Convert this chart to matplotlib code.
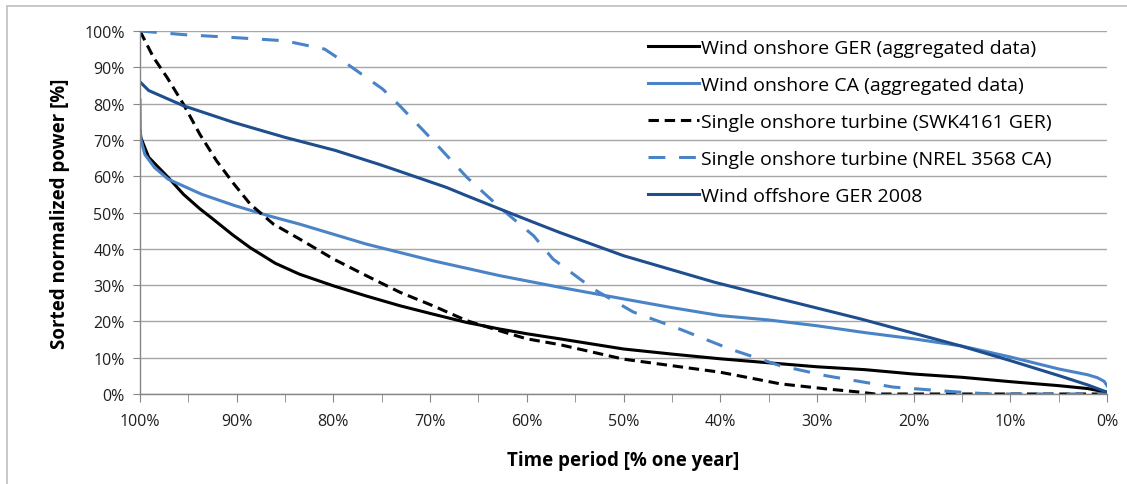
import matplotlib
matplotlib.use("Agg")
import matplotlib.pyplot as plt
from matplotlib.patches import Rectangle
from matplotlib.ticker import MultipleLocator, FuncFormatter

# ---- data (time period in % of one year, sorted normalized power in %) ----
ger_agg_t = [100, 99.9, 99.1, 97.1, 95.5, 93.8, 92.6, 90.4, 88.6, 86, 83.5, 80, 76.6, 73.1,
             69.7, 66.2, 62.8, 60, 56.6, 50, 45, 40, 35, 30, 25, 20, 15, 10, 5, 2, 0]
ger_agg_p = [72.5, 70.5, 65.2, 59.7, 55, 51, 48.5, 43.8, 40.3, 36, 33, 29.8, 27, 24.3,
             22, 19.7, 17.9, 16.6, 15.2, 12.4, 11, 9.7, 8.6, 7.5, 6.7, 5.5, 4.6, 3.4, 2.3, 1.5, 0.5]

ca_agg_t = [100, 99.97, 99.9, 99.5, 98.5, 97.1, 93.6, 90.2, 86.7, 83.5, 76.6, 69.7, 62.8, 56.6,
            50, 45, 40, 35, 30, 25, 20, 15, 10, 5, 2, 1, 0.3, 0]
ca_agg_p = [81, 72.5, 70, 66, 62.4, 59.2, 55, 51.9, 49.1, 46.8, 41.3, 36.7, 32.6, 29.4,
            26.2, 23.8, 21.6, 20.4, 18.8, 16.9, 15.2, 13.2, 10.2, 6.9, 5.3, 4.5, 3.5, 2.3]

swk_t = [100, 98.6, 97.2, 95.5, 93.8, 92.1, 90.3, 88.6, 86.2, 83.5, 80, 76.6, 73.1, 69.7,
         66.2, 62.8, 60, 56.6, 50, 45, 40, 35.9, 33.8, 29, 25.5, 24, 20, 10, 0]
swk_p = [100, 92.7, 87.2, 79.8, 71.5, 64.3, 57.9, 52.3, 46.8, 42.7, 37.2, 32.6, 28, 24.3,
         20.2, 17.4, 15.2, 13.6, 9.6, 7.8, 6, 3.9, 2.8, 1.4, 0.5, 0, 0, 0, 0]

nrel_t = [100, 95.5, 90.3, 85, 80.9, 78.3, 74.9, 73.1, 69.7, 66.2, 62.8, 59.3, 57.3, 53.1,
          49, 44.2, 39, 33.8, 29, 22.1, 15.2, 12, 0]
nrel_p = [100, 99, 98.2, 97.3, 95, 90.4, 84, 79.3, 69.8, 59.7, 51.4, 43.6, 37.2, 28.9,
          22.6, 17.9, 12.4, 7.8, 5, 1.9, 0.5, 0, 0]

off_t = [100, 99.1, 95.5, 90.3, 85, 79.8, 75.2, 73.1, 68.3, 66.2, 61.4, 59.3, 56.6, 50,
         40.6, 33.8, 25.5, 15.2, 10, 4.9, 2, 0]
off_p = [86, 83.6, 79.4, 74.8, 70.7, 67.1, 63.2, 61.3, 56.9, 54.6, 49.5, 47.3, 44.5, 38.1,
         30.8, 26.2, 20.7, 13.3, 9.2, 5, 2.5, 0.5]

labels = ["Wind onshore GER (aggregated data)",
          "Wind onshore CA (aggregated data)",
          "Single onshore turbine (SWK4161 GER)",
          "Single onshore turbine (NREL 3568 CA)",
          "Wind offshore GER 2008"]

plt.rcParams['font.family'] = ['Open Sans', 'DejaVu Sans']

fig = plt.figure(figsize=(11.27, 4.85), dpi=100)
ax = fig.add_axes([140/1127, 1-395/485, (1107-140)/1127, (395-32)/485])

LIGHT = '#4a84c6'
DARK = '#1f4e8e'
lw = 2.2
ax.plot(ger_agg_t, ger_agg_p, color='black', lw=lw, label=labels[0])
ax.plot(ca_agg_t, ca_agg_p, color=LIGHT, lw=lw, label=labels[1])
ax.plot(swk_t, swk_p, color='black', lw=lw, ls=(0, (3.4, 1.9)), label=labels[2])
ax.plot(nrel_t, nrel_p, color=LIGHT, lw=lw, ls=(0, (5.5, 4.5)), label=labels[3])
ax.plot(off_t, off_p, color=DARK, lw=lw, label=labels[4])

ax.set_xlim(100, 0)
ax.set_ylim(0, 100)
ax.xaxis.set_major_locator(MultipleLocator(10))
ax.xaxis.set_minor_locator(MultipleLocator(5))
ax.yaxis.set_major_locator(MultipleLocator(10))
fmt = FuncFormatter(lambda v, p: f"{int(round(v))}%")
ax.xaxis.set_major_formatter(fmt)
ax.yaxis.set_major_formatter(fmt)

ax.grid(axis='y', color='#a6a6a6', lw=1.0)
ax.set_axisbelow(True)
for s in ['top', 'right']:
    ax.spines[s].set_visible(False)
for s in ['left', 'bottom']:
    ax.spines[s].set_color('#868686')
    ax.spines[s].set_linewidth(1.0)

ax.tick_params(axis='x', which='both', direction='out', length=6, color='#868686',
               labelsize=11.5, pad=8, labelcolor='#202020')
ax.tick_params(axis='y', which='major', direction='out', length=5, color='#868686',
               labelsize=11.5, pad=6, labelcolor='#202020')

ax.set_xlabel("Time period [% one year]", fontsize=13.5, fontweight='bold', labelpad=15)
ax.set_ylabel("Sorted normalized power [%]", fontsize=13.5, fontweight='bold', labelpad=10)

leg = ax.legend(loc='upper left', bbox_to_anchor=(648/1127, 1-40/485),
                bbox_transform=fig.transFigure, frameon=False, fontsize=14,
                handlelength=2.6, handletextpad=0.12, labelspacing=0.98,
                borderaxespad=0, borderpad=0)

fig.patches.append(Rectangle((7/1127, -0.1), 1.2, 1.1 - 7/485, transform=fig.transFigure,
                             fill=False, edgecolor='#bfbfbf', lw=1.2))

fig.savefig("out.png", dpi=100)
